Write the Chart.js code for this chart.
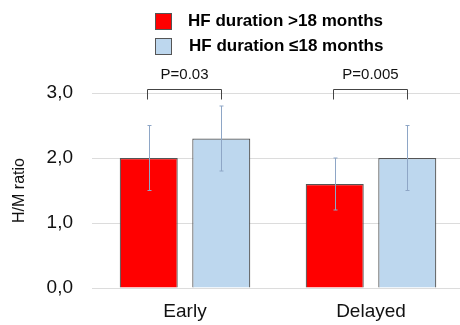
<!DOCTYPE html>
<html><head><meta charset="utf-8">
<script src="https://cdn.jsdelivr.net/npm/chart.js@4/dist/chart.umd.min.js"></script>
<style>html,body{margin:0;padding:0;background:#fff;overflow:hidden}#wrap{width:464px;height:325px}</style>
</head><body><div id="wrap"><canvas id="c"></canvas></div>
<script>
const categories = ['Early', 'Delayed'];
const seriesLabels = ['HF duration >18 months', 'HF duration \u226418 months'];
const longHF = [2.0, 1.6];
const shortHF = [2.3, 2.0];
const longLow = [1.5, 1.2];
const longHigh = [2.5, 2.0];
const shortLow = [1.8, 1.5];
const shortHigh = [2.8, 2.5];
const pLabels = ['P=0.03', 'P=0.005'];
const yTicks = [0, 1, 2, 3];

const FONT = '"Liberation Sans", Arial, sans-serif';

const extras = {
  id: 'extras',
  afterDatasetsDraw(chart) {
    const ctx = chart.ctx;
    const ys = chart.scales.y;
    const lows = [longLow, shortLow], highs = [longHigh, shortHigh];
    ctx.save();
    // error bars
    ctx.strokeStyle = '#8ea6c6';
    ctx.lineWidth = 1;
    chart.data.datasets.forEach((ds, di) => {
      const meta = chart.getDatasetMeta(di);
      meta.data.forEach((bar, i) => {
        const x = Math.round(bar.x) + 0.5;
        const y1 = ys.getPixelForValue(lows[di][i]);
        const y2 = ys.getPixelForValue(highs[di][i]);
        ctx.beginPath();
        ctx.moveTo(x, y1); ctx.lineTo(x, y2);
        ctx.moveTo(x - 2, y1); ctx.lineTo(x + 2, y1);
        ctx.moveTo(x - 2, y2); ctx.lineTo(x + 2, y2);
        ctx.stroke();
      });
    });
    // significance brackets
    const m0 = chart.getDatasetMeta(0), m1 = chart.getDatasetMeta(1);
    ctx.strokeStyle = '#444';
    ctx.lineWidth = 1;
    ctx.fillStyle = '#111';
    ctx.font = '15px ' + FONT;
    ctx.textAlign = 'center';
    ctx.textBaseline = 'middle';
    pLabels.forEach((lab, i) => {
      const xa = Math.round(m0.data[i].x - 2) + 0.5;
      const xb = Math.round(m1.data[i].x) + 0.5;
      const top = Math.round(ys.getPixelForValue(3.06)) + 0.5;
      const bot = ys.getPixelForValue(2.9);
      ctx.beginPath();
      ctx.moveTo(xa, bot); ctx.lineTo(xa, top); ctx.lineTo(xb, top); ctx.lineTo(xb, bot);
      ctx.stroke();
      ctx.fillText(lab, (xa + xb) / 2, top - 15);
    });
    // legend
    ctx.textAlign = 'left';
    ctx.font = 'bold 17px ' + FONT;
    chart.data.datasets.forEach((ds, di) => {
      const y = 13 + di * 25;
      ctx.fillStyle = ds.backgroundColor;
      ctx.fillRect(155, y, 16, 16);
      ctx.strokeStyle = '#555';
      ctx.strokeRect(155.5, y + 0.5, 16, 16);
      ctx.fillStyle = '#000';
      ctx.fillText(ds.label, 188 + (di ? 1 : 0), y + 8);
    });
    ctx.restore();
  }
};

new Chart(document.getElementById('c'), {
  type: 'bar',
  data: {
    labels: categories,
    datasets: [
      { label: seriesLabels[0], data: longHF, backgroundColor: '#ff0000', borderColor: '#555555', borderWidth: 1.2 },
      { label: seriesLabels[1], data: shortHF, backgroundColor: '#bdd7ee', borderColor: '#555555', borderWidth: 1.2 }
    ]
  },
  options: {
    responsive: true,
    maintainAspectRatio: false,
    animation: false,
    layout: { padding: { top: 93, right: 0, bottom: 0, left: 0 } },
    datasets: { bar: { categoryPercentage: 0.78, barPercentage: 0.8 } },
    plugins: { legend: { display: false }, tooltip: { enabled: false } },
    scales: {
      x: {
        grid: { display: false, drawTicks: false },
        border: { display: false },
        ticks: { color: '#111', font: { family: FONT, size: 19 }, padding: 12 },
        afterFit(s) { s.height = 37; }
      },
      y: {
        min: 0, max: 3,
        afterBuildTicks(s) { s.ticks = yTicks.map(v => ({ value: v })); },
        grid: { color: '#dcdcdc', drawTicks: false },
        border: { display: false },
        ticks: {
          color: '#111', font: { family: FONT, size: 19 }, padding: 19,
          callback: v => v.toFixed(1).replace('.', ',')
        },
        title: { display: true, text: 'H/M ratio', color: '#111', font: { family: FONT, size: 16 }, padding: { top: 10, bottom: 0 } },
        afterFit(s) { s.width = 92; }
      }
    }
  },
  plugins: [extras]
});
</script>
</body></html>
